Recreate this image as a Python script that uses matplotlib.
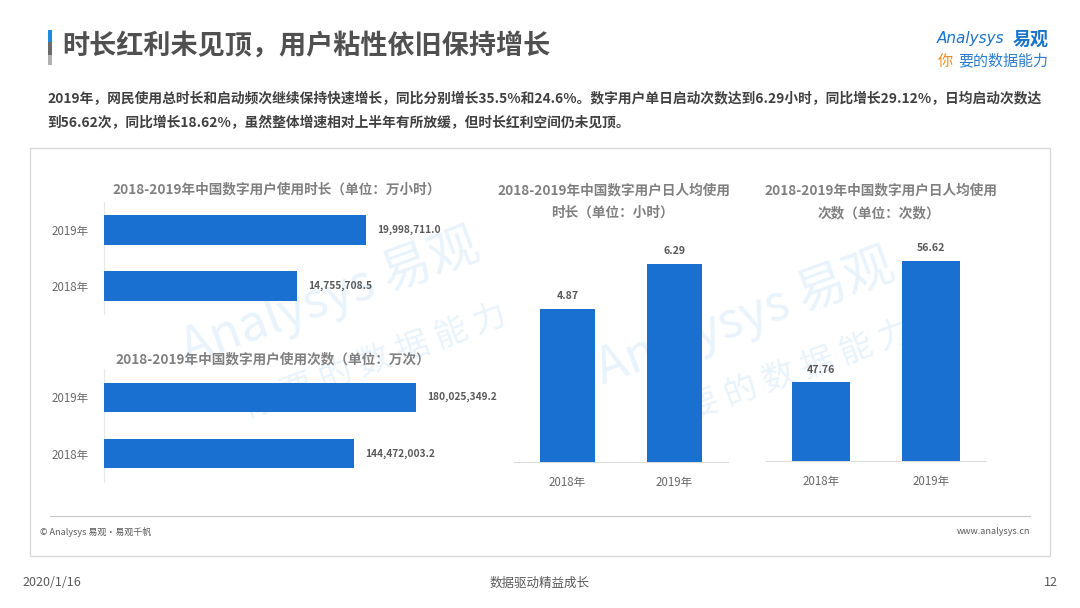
import matplotlib
matplotlib.use("Agg")
import matplotlib.pyplot as plt
from matplotlib.patches import Rectangle

plt.rcParams['font.family'] = ['Noto Sans CJK SC', 'DejaVu Sans']

# ---------------- data ----------------
years = ["2018年", "2019年"]
usage_hours = [14755708.5, 19998711.0]        # 万小时
usage_times = [144472003.2, 180025349.2]      # 万次
daily_hours = [4.87, 6.29]                    # 小时
daily_times = [47.76, 56.62]                  # 次数

title_main = "时长红利未见顶，用户粘性依旧保持增长"
para_lines = [
    "2019年，网民使用总时长和启动频次继续保持快速增长，同比分别增长35.5%和24.6%。数字用户单日启动次数达到6.29小时，同比增长29.12%，日均启动次数达",
    "到56.62次，同比增长18.62%，虽然整体增速相对上半年有所放缓，但时长红利空间仍未见顶。",
]
t1 = "2018-2019年中国数字用户使用时长（单位：万小时）"
t2 = "2018-2019年中国数字用户使用次数（单位：万次）"
t3 = ["2018-2019年中国数字用户日人均使用", "时长（单位：小时）"]
t4 = ["2018-2019年中国数字用户日人均使用", "次数（单位：次数）"]

BAR = "#1a70d0"
GRAY_T = "#808080"
VAL = "#595959"

W, H = 1080, 608
fig = plt.figure(figsize=(W / 100, H / 100), dpi=100)
fig.patch.set_facecolor("white")


def fx(x):
    return x / W


def fy(y):
    return 1 - y / H


def ax_px(l, t, r, b):
    a = fig.add_axes([fx(l), fy(b), (r - l) / W, (b - t) / H])
    a.set_facecolor("none")
    return a


def ftext(x, y, s, **kw):
    return fig.text(fx(x), fy(y), s, **kw)


# background axes for watermark (drawn first, beneath everything)
bg = fig.add_axes([0, 0, 1, 1], zorder=-5)
bg.set_xlim(0, W)
bg.set_ylim(H, 0)
bg.axis("off")
wm = "#e9f3fc"
for (cx, cy, cx2, cy2) in [(330, 298, 375, 362), (745, 318, 780, 378)]:
    bg.text(cx, cy, "Analysys 易观", fontsize=36, color=wm, rotation=20,
            ha="center", va="center", style="italic")
    bg.text(cx2, cy2, "你 要 的 数 据 能 力", fontsize=24, color=wm, rotation=20,
            ha="center", va="center", style="italic")

# ---------------- header ----------------
for (y0, y1, c) in [(30, 42, "#1b8ae0"), (42, 55, "#6b6b6b"), (55, 65, "#b0b0b0")]:
    fig.add_artist(Rectangle((fx(48), fy(y1)), 3.5 / W, (y1 - y0) / H,
                             transform=fig.transFigure, facecolor=c, edgecolor="none"))
ftext(62, 46, title_main, fontsize=19.5, fontweight="bold", color="#505050",
      ha="left", va="center")

# logo
ftext(1004, 39, "Analysys", fontsize=11, color="#1a75c9", style="italic",
      ha="right", va="center", family=["DejaVu Sans"])
ftext(1049, 39, "易观", fontsize=13, fontweight="bold", color="#1a75c9",
      ha="right", va="center")
ftext(953, 61, "你", fontsize=11, color="#f08c1e", style="italic", ha="right", va="center")
ftext(1048, 61, "要的数据能力", fontsize=10.8, color="#2a7fd0", style="italic",
      ha="right", va="center")

# paragraph
for i, line in enumerate(para_lines):
    ftext(47, 99 + 24 * i, line, fontsize=9.9, fontweight="bold", color="#404040",
          ha="left", va="center")

# panel box
fig.add_artist(Rectangle((fx(30), fy(556)), (1050 - 30) / W, (556 - 148) / H,
                         transform=fig.transFigure, facecolor="none",
                         edgecolor="#dadada", linewidth=1.0))
fig.add_artist(plt.Line2D([fx(50), fx(1030)], [fy(516), fy(516)],
                          transform=fig.transFigure, color="#c8c8c8", linewidth=0.8))
ftext(40, 532, "© Analysys 易观·易观千帆", fontsize=6.5, color="#595959", ha="left", va="center")
ftext(1030, 532, "www.analysys.cn", fontsize=6.5, color="#595959", ha="right", va="center")

# bottom footer
ftext(22, 583, "2020/1/16", fontsize=9, color="#595959", ha="left", va="center")
ftext(540, 583, "数据驱动精益成长", fontsize=9, color="#595959", ha="center", va="center")
ftext(1058, 583, "12", fontsize=9, color="#595959", ha="right", va="center")


# ---------------- horizontal bar charts ----------------
def hbar(ax, vals, xmax):
    pos = list(range(len(years)))
    ax.barh(pos, vals, height=0.52, color=BAR, zorder=3)
    ax.set_xlim(0, xmax)
    ax.set_ylim(-0.5, 1.5)
    ax.set_yticks(pos)
    ax.set_yticklabels(years, fontsize=8.3, color="#6a6a6a")
    ax.tick_params(axis="y", length=0, pad=11)
    ax.set_xticks([])
    for s in ["top", "right", "bottom"]:
        ax.spines[s].set_visible(False)
    ax.spines["left"].set_color("#e8e8e8")
    ax.spines["left"].set_linewidth(0.8)
    for p, v in zip(pos, vals):
        ax.annotate(f"{v:,.1f}", (v, p), xytext=(8, 0), textcoords="offset points",
                    ha="left", va="center", fontsize=7.3, fontweight="bold", color=VAL)


ax1 = ax_px(104, 202, 480, 314)
hbar(ax1, usage_hours, 2.87e7)
ftext(277, 189, t1, fontsize=9.8, fontweight="bold", color=GRAY_T, ha="center", va="center")

ax2 = ax_px(104, 369, 480, 482)
hbar(ax2, usage_times, 2.17e8)
ftext(273, 359, t2, fontsize=9.8, fontweight="bold", color=GRAY_T, ha="center", va="center")


# ---------------- vertical bar charts ----------------
def vbar(ax, vals, ylo, yhi):
    pos = list(range(len(years)))
    ax.bar(pos, vals, width=0.52, color=BAR, zorder=3)
    ax.set_xlim(-0.5, 1.5)
    ax.set_ylim(ylo, yhi)
    ax.set_xticks(pos)
    ax.set_xticklabels(years, fontsize=8.3, color="#6a6a6a")
    ax.tick_params(axis="x", length=0, pad=10)
    ax.set_yticks([])
    for s in ["top", "right", "left"]:
        ax.spines[s].set_visible(False)
    ax.spines["bottom"].set_color("#dcdcdc")
    ax.spines["bottom"].set_linewidth(0.8)
    for p, v in zip(pos, vals):
        ax.annotate(f"{v:.2f}", (p, v), xytext=(0, 9), textcoords="offset points",
                    ha="center", va="center", fontsize=7.6, fontweight="bold", color=VAL)


ax3 = ax_px(514, 232, 728, 462)
vbar(ax3, daily_hours, 0, 7.3)
ftext(614, 190, t3[0], fontsize=9.8, fontweight="bold", color=GRAY_T, ha="center", va="center")
ftext(612, 213, t3[1], fontsize=9.8, fontweight="bold", color=GRAY_T, ha="center", va="center")

ax4 = ax_px(766, 231, 986, 461)
vbar(ax4, daily_times, 42, 58.8)
ftext(881, 190, t4[0], fontsize=9.8, fontweight="bold", color=GRAY_T, ha="center", va="center")
ftext(879, 213, t4[1], fontsize=9.8, fontweight="bold", color=GRAY_T, ha="center", va="center")

fig.savefig("out.png", dpi=100, facecolor="white")
